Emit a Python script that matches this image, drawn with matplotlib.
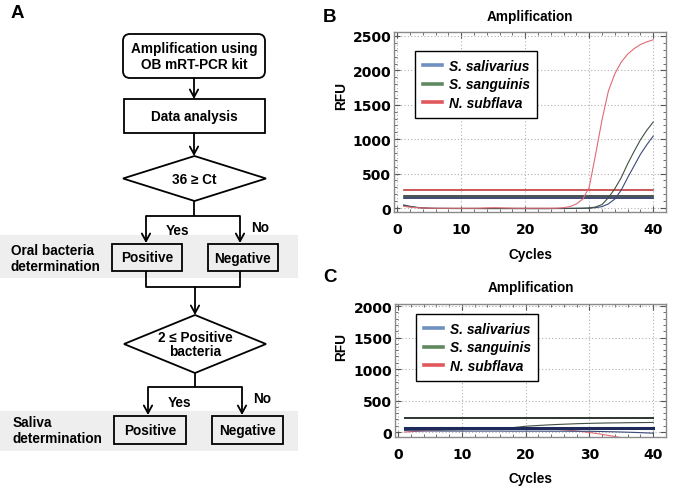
"""
Saliva identification figure:
(A) decision flowchart for the OB mRT-PCR kit,
(B, C) amplification curves (RFU vs. cycles) for the three oral bacteria.
"""

import matplotlib.pyplot as plt
import numpy as np
from matplotlib.lines import Line2D
from matplotlib.patches import FancyBboxPatch, Polygon, Rectangle

plt.rcParams["font.family"] = ["Liberation Sans", "DejaVu Sans"]
plt.rcParams["font.weight"] = "bold"

# ---- data ------------------------------------------------------------------
species = ["S. salivarius", "S. sanguinis", "N. subflava"]
cycles = list(range(1, 41))

# panel B: positive sample
salivarius_b = [45, 25, 10, 2, -3, -5, -6, -7, -8, -8,
                -8, -8, -9, -9, -9, -9, -9, -9, -9, -9,
                -10, -10, -10, -9, -8, -8, -6, -5, -4, -2,
                5, 20, 60, 130, 260, 440, 610, 780, 920, 1045]
sanguinis_b = [35, 20, 8, 0, -4, -6, -6, -6, -6, -6,
               -6, -6, -6, -6, -6, -6, -6, -6, -6, -6,
               -6, -6, -6, -6, -6, -6, -5, -4, -3, 0,
               15, 50, 150, 280, 440, 640, 820, 990, 1130, 1250]
subflava_b = [25, 12, 5, 0, -2, -3, -3, -3, -3, -3,
              -3, -3, -2, 2, 4, 3, 0, -2, -3, -3,
              -3, -3, -3, -3, -2, 5, 20, 60, 130, 300,
              780, 1280, 1700, 1950, 2120, 2235, 2315, 2375, 2415, 2445]
thresholds_b = [145, 180, 268]

# panel C: negative sample
salivarius_c = [25, 20, 18, 17, 16, 16, 15, 15, 15, 15,
                15, 15, 15, 15, 15, 15, 14, 14, 14, 14,
                14, 14, 13, 13, 13, 13, 12, 12, 12, 12,
                10, 8, 5, 3, 0, -3, -6, -10, -14, -18]
sanguinis_c = [40, 35, 30, 28, 28, 30, 32, 34, 36, 38,
               40, 40, 42, 44, 46, 50, 60, 70, 80, 92,
               98, 104, 110, 115, 120, 124, 128, 132, 135, 138,
               140, 142, 144, 145, 146, 148, 149, 150, 151, 152]
subflava_c = [0, 5, 12, 20, 28, 35, 40, 42, 43, 44,
              44, 44, 44, 44, 44, 44, 44, 44, 44, 44,
              44, 43, 43, 42, 40, 34, 26, 16, 5, -8,
              -22, -38, -55, -72, -90, -108, -126, -145, -160, -175]
thresholds_c = [58, 225]

# ---- styling ---------------------------------------------------------------
legend_colors = ["#6f8fbf", "#5f8a60", "#e0585c"]
curve_colors = ["#3a4a7a", "#3f4f40", "#e06a74"]
thresh_colors = ["#1e2a5a", "#2e352f", "#c33a3a"]
band_color = "#eeeeee"

W, H = 675, 489
fig = plt.figure(figsize=(W / 100, H / 100), dpi=100)

# ---- panel A: flowchart drawn in pixel coordinates -------------------------
axA = fig.add_axes([0, 0, 340 / W, 1])
axA.set_xlim(0, 340)
axA.set_ylim(H, 0)
axA.axis("off")

FS = 9.8
LW = 1.3


def box(x0, y0, x1, y1, text):
    axA.add_patch(Rectangle((x0, y0), x1 - x0, y1 - y0, fill=False, lw=LW, ec="black"))
    axA.text((x0 + x1) / 2, (y0 + y1) / 2, text, ha="center", va="center", fontsize=FS)


def diamond(cx, cy, hw, hh, text):
    pts = [(cx - hw, cy), (cx, cy - hh), (cx + hw, cy), (cx, cy + hh)]
    axA.add_patch(Polygon(pts, closed=True, fill=False, lw=LW, ec="black"))
    axA.text(cx, cy, text, ha="center", va="center", fontsize=FS, linespacing=1.05)


def arrow(x, y0, y1):
    axA.annotate("", xy=(x, y1), xytext=(x, y0),
                 arrowprops=dict(arrowstyle="->,head_length=0.55,head_width=0.3",
                                 lw=LW, color="black", shrinkA=0, shrinkB=0))


def line(xs, ys):
    axA.plot(xs, ys, color="black", lw=LW, solid_capstyle="butt")


# grey determination bands
axA.add_patch(Rectangle((0, 236), 298, 43, color=band_color, lw=0, zorder=0))
axA.add_patch(Rectangle((0, 412), 298, 40, color=band_color, lw=0, zorder=0))

axA.text(17, 14, "A", ha="center", va="center", fontsize=13.5)

axA.add_patch(FancyBboxPatch((123, 35), 142, 44, boxstyle="round,pad=0,rounding_size=7",
                             fill=False, lw=LW, ec="black"))
axA.text(194, 57, "Amplification using\nOB mRT-PCR kit", ha="center", va="center",
         fontsize=FS, linespacing=1.2)
arrow(194, 79, 100)
box(124, 100, 265, 134, "Data analysis")
arrow(194, 134, 157)
diamond(194.5, 179.5, 71.5, 22.5, "36 \u2265 Ct")
line([194.5, 194.5], [202, 217])
line([146, 240], [217, 217])
arrow(146, 217, 244)
arrow(240, 217, 244)
axA.text(177, 231, "Yes", ha="center", va="center", fontsize=FS)
axA.text(260, 228, "No", ha="center", va="center", fontsize=FS)

axA.text(11, 259, "Oral bacteria\ndetermination", ha="left", va="center",
         fontsize=FS, linespacing=1.15)
box(112, 245, 182, 272, "Positive")
box(208, 245, 278, 272, "Negative")
line([146, 146, 240, 240], [272, 288, 288, 272])
arrow(195, 288, 316)
diamond(195, 345, 71, 29, "2 \u2264 Positive\nbacteria")
line([195, 195], [374, 388])
line([148, 242], [388, 388])
arrow(148, 388, 416)
arrow(242, 388, 416)
axA.text(179, 403, "Yes", ha="center", va="center", fontsize=FS)
axA.text(262, 399, "No", ha="center", va="center", fontsize=FS)

axA.text(13, 431, "Saliva\ndetermination", ha="left", va="center",
         fontsize=FS, linespacing=1.15)
box(114, 417, 186, 445, "Positive")
box(212, 417, 283, 445, "Negative")


# ---- panels B and C: amplification plots ------------------------------------
def amp_axes(rect_px, ylim, ymax_tick, title_y, cycles_y, rfu_y, label, label_y):
    left, top, right, bottom = rect_px
    ax = fig.add_axes([left / W, 1 - bottom / H, (right - left) / W, (bottom - top) / H])
    ax.set_xlim(-0.5, 42)
    ax.set_ylim(*ylim)
    ax.set_xticks([0, 10, 20, 30, 40])
    ax.set_xticks(np.arange(0, 41, 2), minor=True)
    ax.set_yticks(np.arange(0, ymax_tick + 1, 500))
    ax.set_yticks(np.arange(0, ymax_tick + 1, 100), minor=True)
    ax.grid(True, which="major", linestyle=(0, (1, 2)), color="#b0b0b0", lw=0.8)
    ax.tick_params(which="both", direction="in", top=True, right=True, color="#555555")
    ax.tick_params(which="major", length=4, width=0.8)
    ax.tick_params(which="minor", length=2.5, width=0.6)
    ax.tick_params(axis="x", pad=7)
    ax.tick_params(axis="y", pad=2)
    for lbl in ax.get_xticklabels() + ax.get_yticklabels():
        lbl.set_fontweight("bold")
        lbl.set_fontfamily("DejaVu Sans")
        lbl.set_fontsize(10)
    for sp in ax.spines.values():
        sp.set_color("#8a8a8a")
        sp.set_linewidth(1.0)
    cx = (left + right) / 2
    fig.text(cx / W, 1 - title_y / H, "Amplification", ha="center", va="center",
             fontsize=9.8, fontweight="bold")
    fig.text(cx / W, 1 - cycles_y / H, "Cycles", ha="center", va="center",
             fontsize=9.8, fontweight="bold")
    fig.text(341 / W, 1 - rfu_y / H, "RFU", ha="center", va="center", rotation=90,
             fontsize=9.8, fontweight="bold")
    fig.text(330 / W, 1 - label_y / H, label, ha="center", va="center",
             fontsize=13.5, fontweight="bold")
    return ax


def add_legend(ax, x0, ytop):
    handles = [Line2D([], [], color=c, lw=2.6) for c in legend_colors]
    leg = ax.legend(handles, species, loc="upper left", bbox_to_anchor=(x0, ytop),
                    borderaxespad=0, fancybox=False, edgecolor="black", framealpha=1,
                    prop=dict(style="italic", weight="bold", size=9.9),
                    handlelength=1.4, handletextpad=0.5, labelspacing=0.35,
                    borderpad=0.55)
    leg.get_frame().set_linewidth(1.0)


# panel B
axB = amp_axes((394, 33, 666, 213), (-58, 2558), 2500, 17, 255, 96, "B", 17)
for th, c in zip(thresholds_b, thresh_colors):
    axB.plot([cycles[0], cycles[-1]], [th, th], color=c, lw=1.2)
axB.plot(cycles, salivarius_b, color=curve_colors[0], lw=0.8)
axB.plot(cycles, sanguinis_b, color=curve_colors[1], lw=0.8)
axB.plot(cycles, subflava_b, color=curve_colors[2], lw=0.8)
add_legend(axB, 0.077, 0.894)

# panel C
axC = amp_axes((395, 305, 666, 438), (-79, 2032), 2000, 288, 479, 347, "C", 278)
axC.plot([cycles[0], cycles[-1]], [thresholds_c[1]] * 2, color=thresh_colors[1], lw=1.4)
axC.plot(cycles, sanguinis_c, color=curve_colors[1], lw=0.8)
axC.plot(cycles, subflava_c, color=curve_colors[2], lw=0.8)
axC.plot(cycles, salivarius_c, color=curve_colors[0], lw=0.8)
axC.plot([cycles[0], cycles[-1]], [thresholds_c[0]] * 2, color=thresh_colors[0], lw=2.2)
add_legend(axC, 0.0775, 0.925)

fig.savefig("out.png", dpi=100)
